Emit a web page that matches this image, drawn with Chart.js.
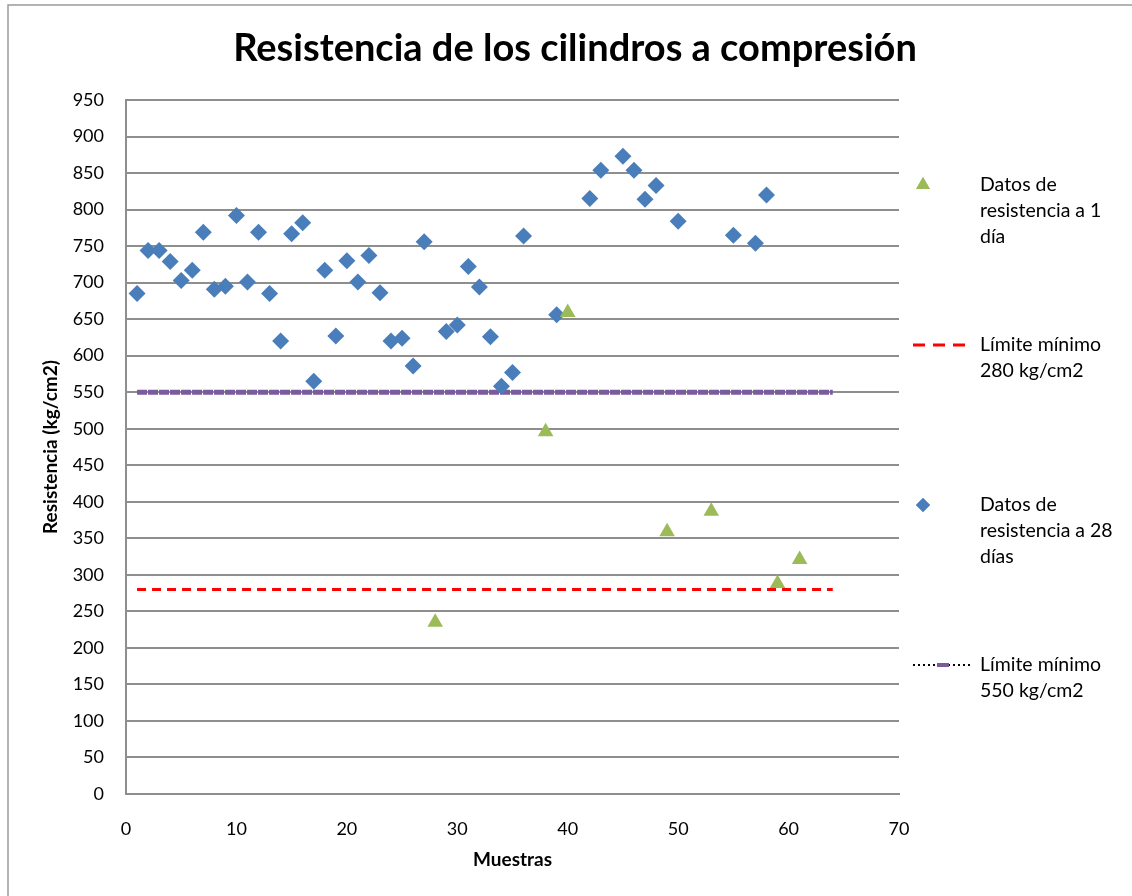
<!DOCTYPE html>
<html>
<head>
<meta charset="utf-8">
<script src="https://cdn.jsdelivr.net/npm/chart.js@4.4.1/dist/chart.umd.min.js"></script>
<style>
  html, body { margin: 0; padding: 0; background: #fff; }
  #wrap { position: relative; width: 1132px; height: 896px; }
</style>
</head>
<body>
<div id="wrap"><canvas id="grafica" width="1132" height="896"></canvas></div>
<script>
// Datos de resistencia a 28 dias
const muestras28 = [1, 2, 3, 4, 5, 6, 7, 8, 9, 10, 11, 12, 13, 14, 15, 16, 17, 18, 19, 20,
  21, 22, 23, 24, 25, 26, 27, 29, 30, 31, 32, 33, 34, 35, 36, 39, 42, 43, 45, 46, 47, 48, 50, 55, 57, 58];
const resistencia28 = [685, 744, 744, 729, 703, 717, 769, 691, 695, 792, 701, 769, 685, 620, 767, 782, 565, 717, 627, 730,
  701, 737, 686, 620, 624, 586, 756, 633, 642, 722, 694, 626, 558, 577, 764, 656, 815, 854, 873, 854, 814, 833, 784, 765, 754, 820];

// Datos de resistencia a 1 dia
const muestras1 = [28, 38, 40, 49, 53, 59, 61];
const resistencia1 = [235, 496, 659, 359, 387, 288, 321];

// Limites minimos
const limiteX = [1, 64];
const limite280 = [280, 280];
const limite550 = [550, 550];

const ticksY = [0, 950, 50];   // min, max, paso
const ticksX = [0, 70, 10];

const fuente = 'Lato, "Open Sans", sans-serif';
const gris = '#8e8e8e';

function puntos(xs, ys) {
  return xs.map((x, i) => ({ x: x, y: ys[i] }));
}

const etiquetas = [
  { texto: ['Datos de', 'resistencia a 1', 'día'], y: 185 },
  { texto: ['Límite mínimo', '280 kg/cm2'], y: 345 },
  { texto: ['Datos de', 'resistencia a 28', 'días'], y: 505 },
  { texto: ['Límite mínimo', '550 kg/cm2'], y: 665 }
];

// leyenda a la derecha, con texto en varias lineas
const leyenda = {
  id: 'leyenda',
  afterDraw(chart) {
    const ctx = chart.ctx;
    const x0 = chart.chartArea.right + 14;
    const xt = x0 + 67;
    ctx.save();
    etiquetas.forEach((e, i) => {
      const ds = chart.data.datasets[i];
      if (ds.type === 'line') {
        ctx.beginPath();
        ctx.strokeStyle = i === 3 ? '#000' : ds.borderColor;
        ctx.lineWidth = i === 3 ? 2 : 3;
        ctx.setLineDash(i === 3 ? [2, 3] : [12, 8]);
        ctx.moveTo(x0, e.y);
        ctx.lineTo(x0 + 60, e.y);
        ctx.stroke();
        if (i === 3) {
          ctx.setLineDash([]);
          ctx.strokeStyle = ds.borderColor;
          ctx.lineWidth = 4;
          ctx.beginPath();
          ctx.moveTo(x0 + 24, e.y);
          ctx.lineTo(x0 + 36, e.y);
          ctx.stroke();
        }
      } else {
        ctx.setLineDash([]);
        ctx.fillStyle = ds.backgroundColor;
        Chart.helpers.drawPoint(ctx, { pointStyle: ds.pointStyle, radius: i === 0 ? 8 : 7, borderWidth: 0 }, x0 + 10, e.y);
        ctx.fill();
      }
      ctx.fillStyle = '#000';
      ctx.font = '19.5px ' + fuente;
      ctx.textBaseline = 'middle';
      ctx.textAlign = 'left';
      e.texto.forEach((t, k) => ctx.fillText(t, xt, e.y + k * 26));
    });
    // marco exterior
    ctx.setLineDash([]);
    ctx.strokeStyle = '#9a9a9a';
    ctx.lineWidth = 1.5;
    ctx.beginPath();
    ctx.moveTo(8, 896);
    ctx.lineTo(8, 5);
    ctx.lineTo(1132, 5);
    ctx.stroke();
    ctx.restore();
  }
};

const ctx = document.getElementById('grafica').getContext('2d');
const myChart = new Chart(ctx, {
  type: 'scatter',
  data: {
    datasets: [{
      label: 'Datos de resistencia a 1 día',
      data: puntos(muestras1, resistencia1),
      pointStyle: 'triangle',
      pointRadius: 9,
      pointHoverRadius: 9,
      backgroundColor: '#9bbb59',
      borderColor: '#9bbb59',
      borderWidth: 0,
      order: 0
    }, {
      type: 'line',
      label: 'Límite mínimo 280 kg/cm2',
      data: puntos(limiteX, limite280),
      borderColor: '#ff0000',
      borderWidth: 3,
      borderDash: [9, 6],
      pointRadius: 0,
      fill: false,
      order: 3
    }, {
      label: 'Datos de resistencia a 28 días',
      data: puntos(muestras28, resistencia28),
      pointStyle: 'rectRot',
      pointRadius: 8.5,
      pointHoverRadius: 8.5,
      backgroundColor: '#4a7ebb',
      borderColor: '#4a7ebb',
      borderWidth: 0,
      order: 1
    }, {
      type: 'line',
      label: 'Límite mínimo 550 kg/cm2',
      data: puntos(limiteX, limite550),
      borderColor: '#7a5c9e',
      borderWidth: 5,
      borderDash: [10, 1],
      borderCapStyle: 'butt',
      pointRadius: 0,
      fill: false,
      order: 2
    }]
  },
  options: {
    responsive: false,
    animation: false,
    layout: { padding: { left: 18, right: 0, top: 0, bottom: 0 } },
    plugins: {
      legend: { display: false },
      tooltip: { enabled: false },
      title: {
        display: true,
        text: 'Resistencia de los cilindros a compresión',
        color: '#000',
        font: { family: fuente, size: 38, weight: 'bold', lineHeight: 1.2 },
        padding: { top: 26, bottom: 28.4 }
      }
    },
    scales: {
      x: {
        type: 'linear',
        min: ticksX[0],
        max: ticksX[1],
        afterFit: (s) => { s.height = 102; },
        ticks: { stepSize: ticksX[2], color: '#000', padding: 24, font: { family: fuente, size: 18 } },
        grid: { display: false, drawTicks: false },
        border: { display: true, color: gris, width: 2 },
        title: {
          display: true,
          text: 'Muestras',
          color: '#000',
          font: { family: fuente, size: 19, weight: 'bold', lineHeight: 1.2 },
          padding: { top: 0, bottom: 25 }
        }
      },
      y: {
        min: ticksY[0],
        max: ticksY[1],
        afterFit: (s) => { s.width = 108; },
        ticks: { stepSize: ticksY[2], color: '#000', padding: 22, font: { family: fuente, size: 18 } },
        grid: { color: gris, lineWidth: 2, drawTicks: false },
        border: { display: true, color: gris, width: 2 },
        title: {
          display: true,
          text: 'Resistencia (kg/cm2)',
          color: '#000',
          font: { family: fuente, size: 19, weight: 'bold', lineHeight: 1.2 },
          padding: { top: 21, bottom: 0 }
        }
      },
      // eje vacio a la derecha, deja el sitio de la leyenda
      hueco: {
        type: 'linear',
        position: 'right',
        min: ticksY[0],
        max: ticksY[1],
        afterFit: (s) => { s.width = 233; },
        ticks: { display: false },
        grid: { display: false, drawTicks: false },
        border: { display: false }
      }
    }
  },
  plugins: [leyenda]
});
</script>
</body>
</html>
